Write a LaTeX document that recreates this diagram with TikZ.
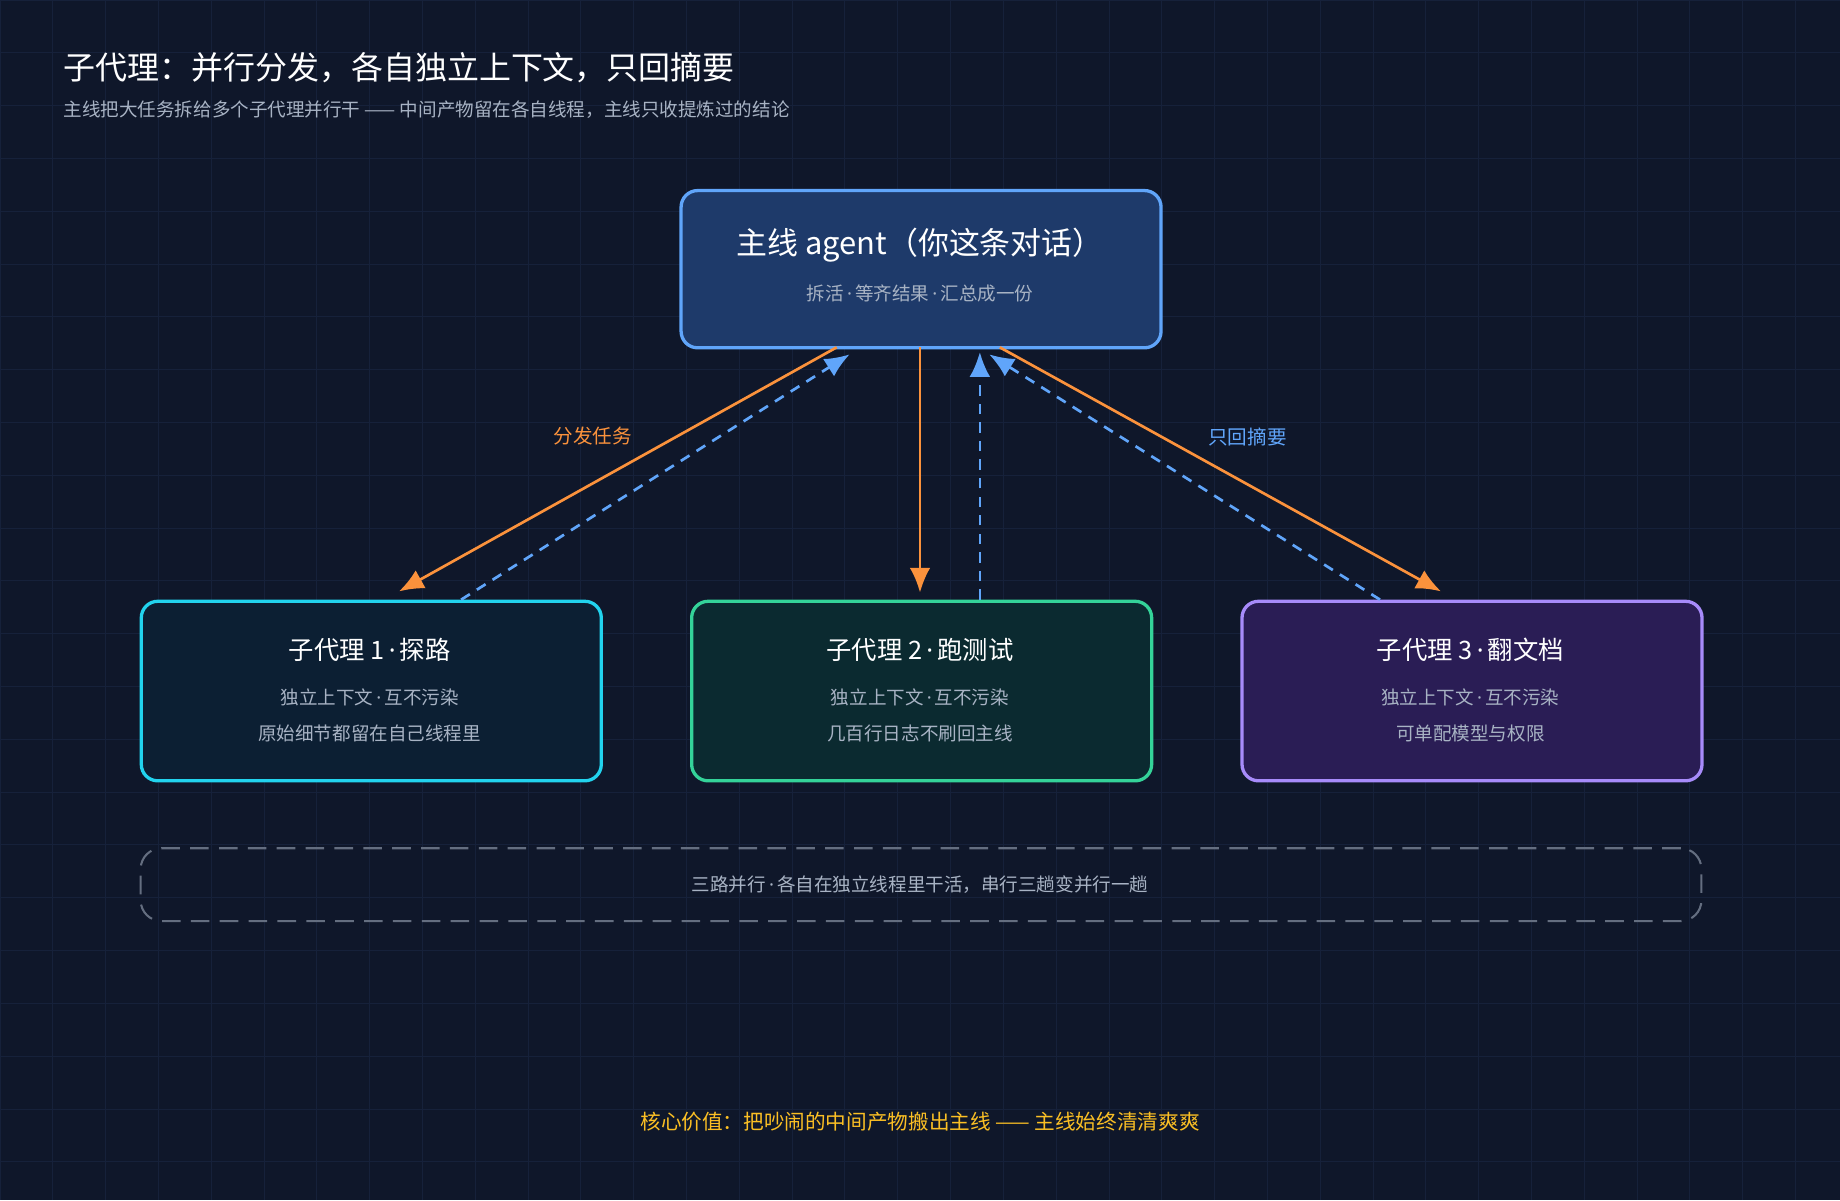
\documentclass[tikz,border=0pt]{standalone}
\usepackage{fontspec}
\setmainfont{Noto Sans CJK SC}
\newfontfamily\latinf{Noto Sans}
\newcommand{\md}{{\latinf\,·\,}}
\usetikzlibrary{arrows.meta,calc}
\definecolor{bg}{HTML}{0F172A}
\definecolor{gridc}{HTML}{16213A}
\definecolor{orng}{HTML}{FB923C}
\definecolor{blu}{HTML}{60A5FA}
\definecolor{txtg}{HTML}{A8B3C4}
\definecolor{gold}{HTML}{FBBF24}
\definecolor{mainf}{HTML}{1E3A6A}
\definecolor{c1}{HTML}{22D3EE}\definecolor{f1c}{HTML}{0C1F33}
\definecolor{c2}{HTML}{34D399}\definecolor{f2c}{HTML}{0B2A30}
\definecolor{c3}{HTML}{A78BFA}\definecolor{f3c}{HTML}{2A1D55}
\definecolor{dashc}{HTML}{646E80}
\tikzset{
 box/.style={draw,line width=1.6pt,rounded corners=8pt,anchor=north west},
 flow/.style={orng,line width=1.3pt,-{Latex[length=12pt,width=10pt]}},
 back/.style={blu,line width=1.3pt,dash pattern=on 5pt off 4pt,-{Latex[length=12pt,width=10pt]}},
 sm/.style={font=\fontsize{9}{11}\selectfont,text=txtg},
 hd/.style={text=white,font=\fontsize{12.3}{15}\selectfont},
}
\begin{document}
\begin{tikzpicture}[x=0.02cm,y=-0.02cm]
\fill[bg] (0,0) rectangle (1568,1023);
\useasboundingbox (0,0) rectangle (1568,1023);
\foreach \i in {0,45,...,1568} \draw[gridc,line width=0.4pt] (\i,0)--(\i,1023);
\foreach \j in {0,45,...,1023} \draw[gridc,line width=0.4pt] (0,\j)--(1568,\j);
\node[anchor=west,text=white,font=\fontsize{15.5}{18}\selectfont] (title) at (48,58) {子代理：并行分发，各自独立上下文，只回摘要};
\node[anchor=west,sm] (sub) at (48,93) {主线把大任务拆给多个子代理并行干 —— 中间产物留在各自线程，主线只收提炼过的结论};
\node[box,draw=blu,fill=mainf,minimum width=409*0.02cm,minimum height=134*0.02cm] (main) at (579,161) {};
\node[text=white,font=\fontsize{15}{18}\selectfont] (mt) at (784,209) {主线 agent（你这条对话）};
\node[sm] (ms) at (784,250) {拆活\md 等齐结果\md 汇总成一份};
\node[box,draw=c1,fill=f1c,minimum width=392*0.02cm,minimum height=153*0.02cm] (s1) at (119,511) {};
\node[box,draw=c2,fill=f2c,minimum width=392*0.02cm,minimum height=153*0.02cm] (s2) at (588,511) {};
\node[box,draw=c3,fill=f3c,minimum width=392*0.02cm,minimum height=153*0.02cm] (s3) at (1057,511) {};
\node[hd] (t1) at (315,554) {子代理 1\md 探路};
\node[sm] (a1) at (315,594) {独立上下文\md 互不污染};
\node[sm] (b1) at (315,625) {原始细节都留在自己线程里};
\node[hd] (t2) at (784,554) {子代理 2\md 跑测试};
\node[sm] (a2) at (784,594) {独立上下文\md 互不污染};
\node[sm] (b2) at (784,625) {几百行日志不刷回主线};
\node[hd] (t3) at (1253,554) {子代理 3\md 翻文档};
\node[sm] (a3) at (1253,594) {独立上下文\md 互不污染};
\node[sm] (b3) at (1253,625) {可单配模型与权限};
\node[draw=dashc,line width=1pt,dash pattern=on 9pt off 5pt,rounded corners=10pt,anchor=north west,minimum width=1330*0.02cm,minimum height=62*0.02cm] (par) at (119,722) {};
\node[sm] (pt) at (784,754) {三路并行\md 各自在独立线程里干活，串行三趟变并行一趟};
\node[text=gold,font=\fontsize{10}{12}\selectfont] (core) at (784,956) {核心价值：把吵闹的中间产物搬出主线 —— 主线始终清清爽爽};
\coordinate (o1) at (713,296); \coordinate (e1) at (340,504);
\coordinate (o2) at (784,296); \coordinate (e2) at (784,505);
\coordinate (o3) at (852,296); \coordinate (e3) at (1228,504);
\coordinate (d1) at (393,511); \coordinate (g1) at (724,302);
\coordinate (d2) at (835,511); \coordinate (g2) at (835,300);
\coordinate (d3) at (1176,511); \coordinate (g3) at (843,302);
\draw[flow] (o1)--(e1); \draw[flow] (o2)--(e2); \draw[flow] (o3)--(e3);
\draw[back] (d1)--(g1); \draw[back] (d2)--(g2); \draw[back] (d3)--(g3);
\node[text=orng,font=\fontsize{9.5}{12}\selectfont] (l1) at (505,372) {分发任务};
\node[text=blu,font=\fontsize{9.5}{12}\selectfont] (l2) at (1063,372) {只回摘要};
\end{tikzpicture}
\end{document}
